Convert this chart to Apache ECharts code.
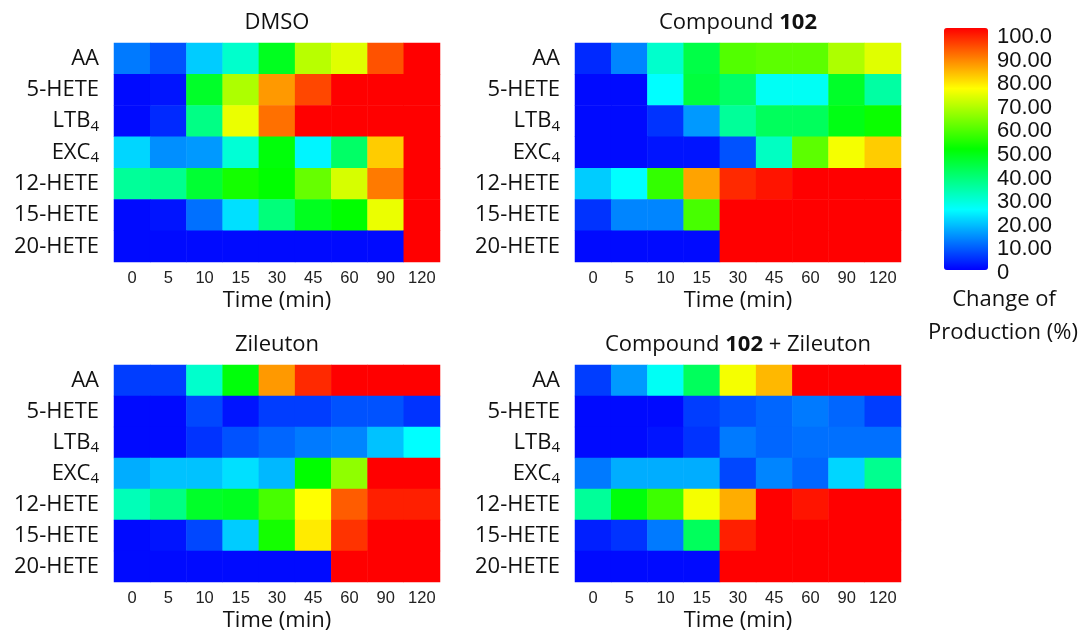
<!DOCTYPE html>
<html>
<head>
<meta charset="utf-8">
<script src="https://cdn.jsdelivr.net/npm/echarts@6/dist/echarts.min.js"></script>
<style>
  html, body { margin: 0; padding: 0; background: #fff; }
  #chart { width: 1084px; height: 633px; }
</style>
</head>
<body>
<div id="chart"></div>
<script>
// time points (min) and analytes, top row first
const times = ['0', '5', '10', '15', '30', '45', '60', '90', '120']
const analytes = ['AA', '5-HETE', 'LTB4', 'EXC4', '12-HETE', '15-HETE', '20-HETE']
const scaleLabels = ['0', '10.00', '20.00', '30.00', '40.00', '50.00', '60.00', '70.00', '80.00', '90.00', '100.0']

// change of production (%), one row per analyte
const dmso = [
  [12, 8, 20, 30, 47, 68, 72, 92, 100],
  [1, 2, 46, 67, 85, 93, 100, 100, 100],
  [1, 4, 37, 73, 89, 100, 100, 100, 100],
  [21, 14, 15, 29, 49, 24, 40, 80, 100],
  [35, 36, 45, 52, 50, 60, 71, 88, 100],
  [1, 2, 11, 22, 38, 47, 50, 73, 100],
  [1, 1, 1, 1, 1, 1, 1, 1, 100],
]
const compound102 = [
  [4, 13, 30, 43, 58, 59, 59, 67, 72],
  [1, 1, 25, 44, 40, 26, 26, 46, 34],
  [1, 1, 5, 15, 35, 41, 41, 48, 51],
  [1, 1, 2, 2, 8, 31, 59, 74, 80],
  [20, 25, 55, 84, 96, 98, 100, 100, 100],
  [5, 13, 13, 57, 100, 100, 100, 100, 100],
  [1, 1, 1, 1, 100, 100, 100, 100, 100],
]
const zileuton = [
  [6, 6, 30, 49, 85, 96, 100, 100, 100],
  [1, 1, 7, 2, 6, 6, 8, 8, 5],
  [1, 1, 5, 8, 10, 12, 13, 19, 25],
  [17, 19, 19, 22, 18, 50, 64, 100, 100],
  [32, 37, 46, 47, 57, 75, 91, 97, 97],
  [1, 2, 7, 20, 52, 77, 95, 100, 100],
  [1, 1, 1, 1, 1, 1, 100, 100, 100],
]
const combo = [
  [6, 15, 26, 41, 74, 82, 100, 100, 100],
  [1, 1, 1, 6, 8, 10, 12, 10, 6],
  [1, 1, 2, 5, 12, 10, 11, 11, 11],
  [12, 17, 17, 17, 7, 13, 10, 21, 36],
  [35, 49, 56, 74, 83, 100, 98, 100, 100],
  [3, 5, 12, 41, 97, 100, 100, 100, 100],
  [1, 1, 1, 1, 100, 100, 100, 100, 100],
]

const panels = [
  { title: 'DMSO', values: dmso, left: 114, top: 43 },
  { title: '{n|Compound }{b|102}', values: compound102, left: 575, top: 43 },
  { title: 'Zileuton', values: zileuton, left: 114, top: 365 },
  { title: '{n|Compound }{b|102}{n| + Zileuton}', values: combo, left: 575, top: 365 },
]

const uiFont = '"Open Sans", "Noto Sans", sans-serif'
const numFont = '"Liberation Sans", Arial, sans-serif'
const gridW = 326
const gridH = 219
const textSize = 22

const toCells = rows => {
  const out = []
  rows.forEach((row, y) => row.forEach((v, x) => out.push([x, y, v])))
  return out
}

const richTitle = {
  n: { fontFamily: uiFont, fontSize: textSize, color: '#111' },
  b: { fontFamily: uiFont, fontSize: textSize, fontWeight: 'bold', color: '#111' },
}

const option = {
  animation: false,
  backgroundColor: '#fff',
  title: panels.map(p => ({
    text: p.title,
    left: p.left + gridW / 2,
    top: p.top - 31,
    textAlign: 'center',
    padding: 0,
    textStyle: { fontFamily: uiFont, fontSize: textSize, fontWeight: 'normal', color: '#111', rich: richTitle },
  })).concat([
    {
      text: 'Change of',
      left: 1004, top: 289, textAlign: 'center', padding: 0,
      textStyle: { fontFamily: uiFont, fontSize: textSize, fontWeight: 'normal', color: '#111' },
    },
    {
      text: 'Production (%)',
      left: 1003, top: 322, textAlign: 'center', padding: 0,
      textStyle: { fontFamily: uiFont, fontSize: textSize, fontWeight: 'normal', color: '#111' },
    },
  ]),
  grid: panels.map(p => ({
    left: p.left, top: p.top, width: gridW, height: gridH,
  })).concat([{ left: 944, top: 37, width: 44, height: 236 }]),
  xAxis: panels.map((p, i) => ({
    type: 'category',
    gridIndex: i,
    data: times,
    name: 'Time (min)',
    nameLocation: 'middle',
    nameGap: 28,
    nameTextStyle: { fontFamily: uiFont, fontSize: textSize, color: '#111' },
    axisLine: { show: false },
    axisTick: { show: false },
    splitLine: { show: false },
    axisLabel: { fontFamily: numFont, fontSize: 16.5, color: '#222', margin: 8 },
  })).concat([{ type: 'value', gridIndex: 4, show: false, min: 0, max: 1 }]),
  yAxis: panels.map((p, i) => ({
    type: 'category',
    gridIndex: i,
    data: analytes,
    inverse: true,
    axisLine: { show: false },
    axisTick: { show: false },
    splitLine: { show: false },
    axisLabel: {
      margin: 15,
      color: '#111',
      fontFamily: uiFont,
      fontSize: textSize,
      formatter: v => {
        const m = v.match(/^(LTB|EXC)(4)$/)
        return m ? '{m|' + m[1] + '}{s|' + m[2] + '}' : '{m|' + v + '}'
      },
      rich: {
        m: { fontFamily: uiFont, fontSize: textSize, color: '#111', lineHeight: 24 },
        s: { fontFamily: uiFont, fontSize: 15, color: '#111', padding: [11, 0, 0, 0], verticalAlign: 'bottom' },
      },
    },
  })).concat([{
    type: 'value',
    gridIndex: 4,
    position: 'right',
    min: 0,
    max: 100,
    interval: 10,
    axisLine: { show: false },
    axisTick: { show: false },
    splitLine: { show: false },
    axisLabel: {
      margin: 9,
      fontFamily: numFont,
      fontSize: 22,
      color: '#111',
      formatter: v => scaleLabels[Math.round(v / 10)],
    },
  }]),
  visualMap: {
    type: 'continuous',
    min: 0,
    max: 100,
    seriesIndex: [0, 1, 2, 3],
    calculable: false,
    realtime: false,
    left: 944,
    top: 28,
    padding: 0,
    itemWidth: 44,
    itemHeight: 242,
    text: ['', ''],
    showLabel: false,
    inRange: { color: ['#0000ff', '#00ffff', '#00ff00', '#ffff00', '#ff0000'] },
  },
  series: panels.map((p, i) => ({
    type: 'heatmap',
    xAxisIndex: i,
    yAxisIndex: i,
    data: toCells(p.values),
    itemStyle: { borderWidth: 0 },
    emphasis: { disabled: true },
  })).concat([{
    type: 'line',
    xAxisIndex: 4,
    yAxisIndex: 4,
    data: [],
  }]),
}

const myChart = echarts.init(document.getElementById('chart'))
myChart.setOption(option)
</script>
</body>
</html>
